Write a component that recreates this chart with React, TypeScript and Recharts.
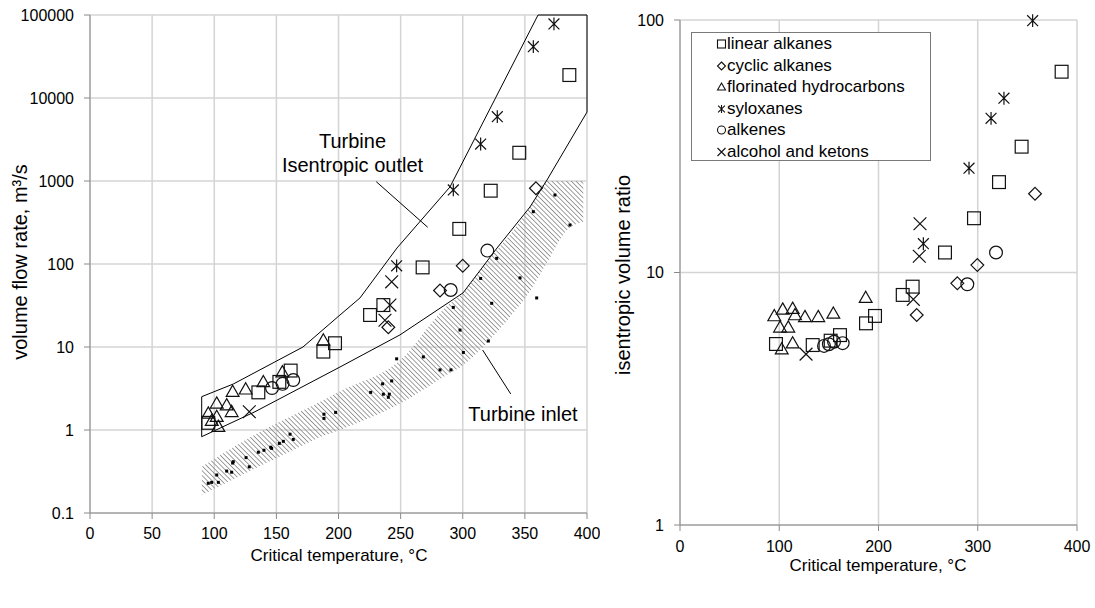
import React from 'react';
import { ComposedChart, Scatter, Area, XAxis, YAxis, CartesianGrid, ReferenceLine } from 'recharts';

const FONT = '"Liberation Sans", Arial, sans-serif';

// ---------- left chart: volume flow rate vs critical temperature ----------
const leftLinear = [[95.2,1.22],[135.5,2.84],[152.4,3.8],[161.5,5.2],[187.8,8.8],[197.2,11.1],[225.4,24.3],[236.1,32],[267.7,91],[297.2,265],[322.5,764],[345.5,2190],[385.8,18900]];
const leftCyclic = [[240.1,17.3],[281.7,48],[300,95],[358.9,817]];
const leftFluor = [[95.2,1.59],[98,1.3],[102,2.1],[102,1.45],[103.3,1.1],[110,2.0],[114,1.66],[114.8,2.9],[125.3,3.1],[139.5,3.8],[154.8,5.0],[187.8,12.1]];
const leftSylox = [[246.8,95],[292.4,780],[314.4,2790],[327.8,5950],[356.8,41500],[373.4,78000]];
const leftAlkenes = [[146.5,3.2],[155,3.6],[163.6,4.0],[290.3,48.6],[319.8,145]];
const leftAlcohol = [[128.2,1.66],[237.4,21],[241.4,32],[242.8,61]];

// turbine inlet values (small dots)
const inletDots = [[95.2,0.228],[97.9,0.234],[103.3,0.234],[102,0.287],[110,0.32],[114,0.31],[115.3,0.415],[114.8,0.40],[125.6,0.465],[128.2,0.36],[135.5,0.54],[140,0.57],[146.2,0.60],[145.4,0.62],[152.4,0.69],[155.6,0.73],[163.6,0.77],[161,0.89],[188.3,1.55],[188.3,1.38],[197.7,1.63],[225.9,2.84],[235.5,3.6],[236.1,2.7],[240.9,2.7],[240.1,2.48],[242.8,3.9],[246.8,7.2],[268.3,7.6],[281.7,5.3],[290.5,5.3],[297.8,16],[300.5,8.6],[292.4,30],[320.6,11.8],[323.3,33.6],[314.4,67],[327.3,117],[346.1,68],[359.5,39],[356.8,427],[374.2,678],[386.3,295]];

// turbine inlet band: temperature, lower edge, upper edge
const bandT = [90, 134, 169, 188, 201, 250, 287, 300, 320, 341, 354, 368, 384, 397];
const bandLo = [0.165, 0.35, 0.63, 0.85, 1.0, 2.1, 4.6, 6.0, 11.4, 26, 47, 105, 257, 320];
const bandHi = [0.36, 0.9, 1.66, 2.3, 2.9, 7.0, 31, 44, 110, 257, 486, 1000, 1000, 1000];

// isentropic outlet envelope (closed outline)
const outletEnvelope = [[89.9,0.83],[89.9,2.52],[115.3,3.58],[171.4,10],[201.2,24.3],[217.3,39],[247.1,156],[289.7,847],[324.3,8700],[360.6,100000],[400,100000],[400,6770],[367.8,1028],[354.1,486],[327.6,156],[300.2,44.8],[249.5,14],[201.2,5.74],[132.8,1.66],[89.9,0.83]];

const leftXTicks = [0, 50, 100, 150, 200, 250, 300, 350, 400];
const leftYTicks = [0.1, 1, 10, 100, 1000, 10000, 100000];

// ---------- right chart: isentropic volume ratio ----------
const rightLinear = [[96.7,5.21],[133.7,5.16],[151.8,5.37],[161.2,5.65],[187.4,6.29],[196.5,6.73],[224.4,8.15],[234.4,8.79],[267,12.0],[296.2,16.4],[321.4,22.8],[344.2,31.5],[384.5,62.4]];
const rightCyclic = [[238.5,6.79],[279.4,9.06],[299.6,10.7],[357.7,20.5]];
const rightFluor = [[95.0,6.73],[103.5,7.15],[113.5,7.2],[115.9,6.79],[125.9,6.68],[139.3,6.68],[154.5,6.89],[100.8,6.07],[109.1,6.07],[102.5,4.97],[113.5,5.25],[187.1,7.95]];
const rightSylox = [[245.2,13.0],[291.2,25.9],[313.4,40.8],[326.4,49],[355.3,99.4]];
const rightAlkenes = [[145.1,5.12],[150,5.2],[155.2,5.32],[163.9,5.25],[289.5,8.98],[318.4,12.0]];
const rightAlcohol = [[127,4.75],[235.1,7.83],[241.1,11.6],[241.8,15.6]];

const rightXTicks = [0, 100, 200, 300, 400];
const rightYTicks = [1, 10, 100];

const seriesNames = ['linear alkanes', 'cyclic alkanes', 'florinated hydrocarbons', 'syloxanes', 'alkenes', 'alcohol and ketons'];
const seriesKinds = ['square', 'diamond', 'triangle', 'asterisk', 'circle', 'cross'];

const toPts = (a: number[][]) => a.map(([x, y]) => ({ x, y }));
const bandRows = bandT.map((t, i) => ({ x: t, band: [bandLo[i], bandHi[i]] }));

const INK = '#111';

function Glyph({ kind, cx, cy, s, sw }: { kind: string; cx: number; cy: number; s: number; sw: number }) {
  const h = s / 2;
  const c = { fill: 'none', stroke: INK, strokeWidth: sw };
  switch (kind) {
    case 'square':
      return <rect x={cx - h} y={cy - h} width={s} height={s} {...c} />;
    case 'diamond':
      return <path d={`M${cx},${cy - h}L${cx + h},${cy}L${cx},${cy + h}L${cx - h},${cy}Z`} {...c} />;
    case 'triangle':
      return <path d={`M${cx},${cy - h}L${cx + h},${cy + h * 0.75}L${cx - h},${cy + h * 0.75}Z`} {...c} />;
    case 'circle':
      return <circle cx={cx} cy={cy} r={h} {...c} />;
    case 'cross':
      return <path d={`M${cx - h},${cy - h}L${cx + h},${cy + h}M${cx - h},${cy + h}L${cx + h},${cy - h}`} {...c} />;
    case 'asterisk': {
      const k = h * 0.85;
      return <path d={`M${cx - k},${cy - k}L${cx + k},${cy + k}M${cx - k},${cy + k}L${cx + k},${cy - k}M${cx},${cy - h}L${cx},${cy + h}`} {...c} />;
    }
    default:
      return <g />;
  }
}

const shapeOf = (kind: string, s = 12.8) => (p: any) =>
  p && p.cx != null ? <Glyph kind={kind} cx={p.cx} cy={p.cy} s={s} sw={1.2} /> : <g />;

const dotShape = (p: any) => (p && p.cx != null ? <rect x={p.cx - 1.5} y={p.cy - 1.5} width={3} height={3} fill="#000" /> : <g />);
const noShape = () => <g />;

const tickStyle = { fill: '#000', fontSize: 16, fontFamily: FONT };
const AXIS = '#8a8a8a';
const GRID = '#d4d4d4';

const leftSets = [leftLinear, leftCyclic, leftFluor, leftSylox, leftAlkenes, leftAlcohol];
const rightSets = [rightLinear, rightCyclic, rightFluor, rightSylox, rightAlkenes, rightAlcohol];

export default function App() {
  return (
    <div style={{ position: 'absolute', left: 0, top: 0, width: 1095, height: 608, background: '#fff', fontFamily: FONT, overflow: 'hidden' }}>
      <div style={{ position: 'absolute', left: 0, top: 0 }}>
        <ComposedChart width={600} height={560} data={bandRows} margin={{ top: 15, right: 13, bottom: 17, left: 0 }}>
          <defs>
            <pattern id="hatch" patternUnits="userSpaceOnUse" width={3.4} height={3.4} patternTransform="rotate(-45)">
              <line x1={0} y1={0} x2={0} y2={3.4} stroke="#8f8f8f" strokeWidth={1.7} />
            </pattern>
          </defs>
          <CartesianGrid stroke={GRID} strokeWidth={1.5} />
          <XAxis type="number" dataKey="x" domain={[0, 400]} ticks={leftXTicks} height={30} tick={tickStyle} tickMargin={9} stroke={AXIS} />
          <YAxis type="number" dataKey="y" scale="log" domain={[0.1, 100000]} ticks={leftYTicks} width={90} tick={tickStyle} tickMargin={10} stroke={AXIS} tickFormatter={(v: number) => String(v)} />
          <Area dataKey="band" type="monotone" stroke="none" fill="url(#hatch)" fillOpacity={1} isAnimationActive={false} />
          <Scatter data={toPts(outletEnvelope)} shape={noShape} line={{ stroke: '#000', strokeWidth: 1 }} lineType="joint" isAnimationActive={false} />
          <Scatter data={toPts(inletDots)} shape={dotShape} isAnimationActive={false} />
          <ReferenceLine segment={[{ x: 230.4, y: 981 }, { x: 271.8, y: 277 }]} stroke="#000" strokeWidth={1} />
          <ReferenceLine segment={[{ x: 316, y: 9.2 }, { x: 338.6, y: 2.72 }]} stroke="#000" strokeWidth={1} />
          {leftSets.map((d, i) => (
            <Scatter key={'l' + i} name={seriesNames[i]} data={toPts(d)} shape={shapeOf(seriesKinds[i])} isAnimationActive={false} />
          ))}
        </ComposedChart>
      </div>
      <div style={{ position: 'absolute', left: 600, top: 0 }}>
        <ComposedChart width={495} height={580} margin={{ top: 20, right: 18, bottom: 25, left: 0 }}>
          <CartesianGrid stroke={GRID} strokeWidth={1.5} />
          <XAxis type="number" dataKey="x" domain={[0, 400]} ticks={rightXTicks} height={30} tick={tickStyle} tickMargin={10} stroke={AXIS} />
          <YAxis type="number" dataKey="y" scale="log" domain={[1, 100]} ticks={rightYTicks} width={80} tick={tickStyle} tickMargin={10} stroke={AXIS} tickFormatter={(v: number) => String(v)} />
          {rightSets.map((d, i) => (
            <Scatter key={'r' + i} name={seriesNames[i]} data={toPts(d)} shape={shapeOf(seriesKinds[i])} isAnimationActive={false} />
          ))}
        </ComposedChart>
      </div>

      {/* legend of the right chart */}
      <div style={{ position: 'absolute', left: 691, top: 32, width: 240, height: 129, border: '1px solid #7a7a7a', background: '#fff', boxSizing: 'border-box' }}>
        {seriesNames.map((n, i) => (
          <div key={n} style={{ position: 'absolute', left: 0, top: i * 21.5, height: 21.5, width: 238, display: 'flex', alignItems: 'center' }}>
            <svg width={35} height={21} style={{ flex: 'none' }}>
              <Glyph kind={seriesKinds[i]} cx={29.5} cy={11} s={8} sw={1.1} />
            </svg>
            <span style={{ fontSize: 17, color: '#000', whiteSpace: 'nowrap', lineHeight: '21px' }}>{n}</span>
          </div>
        ))}
      </div>

      {/* titles and annotations */}
      <svg width={1095} height={608} style={{ position: 'absolute', left: 0, top: 0, pointerEvents: 'none' }} fontFamily={FONT}>
        <text transform="translate(27,262) rotate(-90)" textAnchor="middle" fontSize={20} fill="#000">volume flow rate, m³/s</text>
        <text x={339} y={561} textAnchor="middle" fontSize={17} fill="#000">Critical temperature, °C</text>
        <text transform="translate(630,275) rotate(-90)" textAnchor="middle" fontSize={20} fill="#000">isentropic volume ratio</text>
        <text x={878} y={571} textAnchor="middle" fontSize={17} fill="#000">Critical temperature, °C</text>
        <text x={352.5} y={148} textAnchor="middle" fontSize={20} fill="#000">Turbine</text>
        <text x={352.5} y={171.5} textAnchor="middle" fontSize={20} fill="#000">Isentropic outlet</text>
        <text x={523} y={421} textAnchor="middle" fontSize={20} fill="#000">Turbine inlet</text>
      </svg>
    </div>
  );
}
